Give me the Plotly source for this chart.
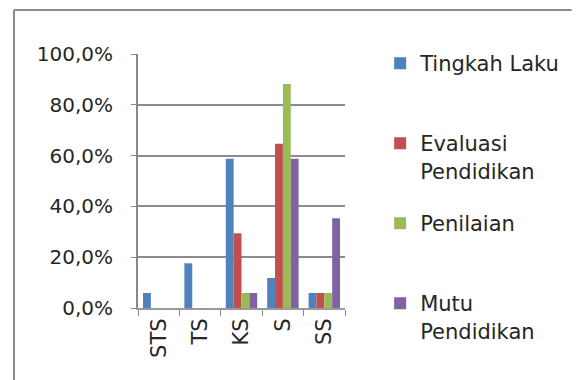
import plotly.graph_objects as go

categories = ["STS", "TS", "KS", "S", "SS"]
series_names = ["Tingkah Laku", "Evaluasi<br>Pendidikan", "Penilaian", "Mutu<br>Pendidikan"]
tingkah_laku = [0.059, 0.176, 0.588, 0.118, 0.059]
evaluasi_pendidikan = [0.0, 0.0, 0.294, 0.647, 0.059]
penilaian = [0.0, 0.0, 0.059, 0.882, 0.059]
mutu_pendidikan = [0.0, 0.0, 0.059, 0.588, 0.353]
y_ticks = [0, 0.2, 0.4, 0.6, 0.8, 1.0]

colors = ["#4F81BD", "#C0504D", "#9BBB59", "#8064A2"]
series_values = [tingkah_laku, evaluasi_pendidikan, penilaian, mutu_pendidikan]
legend_ids = ["legend", "legend2", "legend3", "legend4"]

W, H = 577, 380
L, R, T, B = 138, 350, 54, 308
FONT = "DejaVu Sans"


def px_x(p):
    return (p - L) / (R - L)


def px_y(p):
    return (B - p) / (B - T)


fig = go.Figure()
for name, vals, col, lg in zip(series_names, series_values, colors, legend_ids):
    fig.add_trace(go.Bar(
        x=categories, y=vals, name=name, legend=lg,
        marker=dict(color=col, line=dict(width=0)),
    ))

legend_top_px = [43, 123, 203, 283]
legend_cfg = {}
for lg, top in zip(legend_ids, legend_top_px):
    legend_cfg[lg] = dict(
        x=px_x(386), y=px_y(top), xanchor="left", yanchor="top",
        font=dict(family=FONT, size=21, color="#262626"),
        bgcolor="rgba(0,0,0,0)", valign="top",
        itemclick=False, itemdoubleclick=False,
    )

fig.update_layout(
    width=W, height=H,
    margin=dict(l=L, r=W - R, t=T, b=H - B),
    paper_bgcolor="white", plot_bgcolor="white",
    separators=",.",
    barmode="group", bargap=0.24, bargroupgap=0.0,
    showlegend=True,
    **legend_cfg,
    xaxis=dict(
        tickangle=-90, tickson="boundaries", ticks="outside", ticklen=6,
        tickcolor="#888888", showline=True, linecolor="#999999", linewidth=2,
        tickfont=dict(family=FONT, size=21, color="#262626"),
        showgrid=False,
    ),
    yaxis=dict(
        range=[0, 1.0], tickvals=y_ticks, tickformat=".1%",
        ticks="outside", ticklen=5, tickcolor="#888888",
        ticklabelstandoff=14,
        showline=True, linecolor="#888888", linewidth=2,
        showgrid=True, gridcolor="#8c8c8c", gridwidth=2,
        tickfont=dict(family=FONT, size=20, color="#262626"),
        zeroline=False,
    ),
    shapes=[
        dict(type="line", xref="paper", yref="paper",
             x0=px_x(11), x1=px_x(W + 5), y0=px_y(10), y1=px_y(10),
             line=dict(color="#8a8a8a", width=2)),
        dict(type="line", xref="paper", yref="paper",
             x0=px_x(11), x1=px_x(11), y0=px_y(10), y1=px_y(H + 5),
             line=dict(color="#8a8a8a", width=2)),
    ],
)

fig.write_html("out.html")
